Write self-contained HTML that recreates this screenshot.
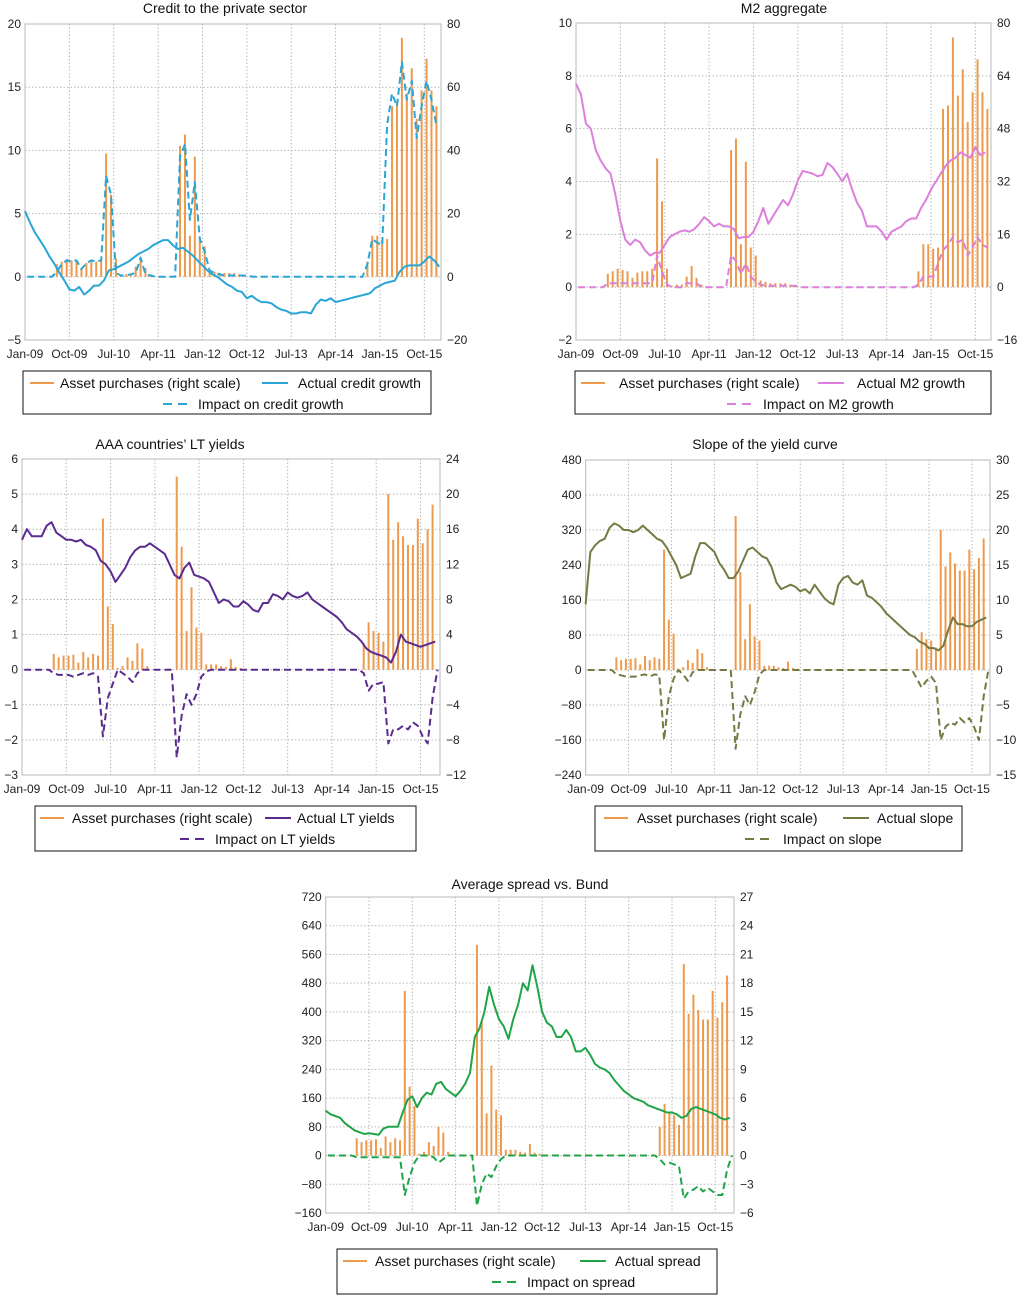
<!DOCTYPE html>
<html><head><meta charset="utf-8"><style>
html,body{margin:0;padding:0;background:#fff;}
svg{display:block;font-family:"Liberation Sans",Arial,sans-serif;}
</style></head><body>
<svg id="chart" width="1024" height="1295" viewBox="0 0 1024 1295" xmlns="http://www.w3.org/2000/svg"></svg>
<script>
// ---- data (month index 0 = Jan-09) ----
const xTickLabels = ["Jan-09","Oct-09","Jul-10","Apr-11","Jan-12","Oct-12","Jul-13","Apr-14","Jan-15","Oct-15"];
const purchasesA = [0,0,0,0,0,0, 4,4.8,5.6,5.2,4.8,2.8,4.4,4.8,4.8,5.6, 39,26,5.6,0.4,0.8,0.8,3.2,6.4,2.8,0.8, 0,0,0,0,0, 41.5,45,13,38,12,9.6,2,1.6,1.2,1.2,1.2,1.2,0.8,0.4, 0,0,0,0,0,0,0,0,0,0,0,0,0,0,0,0,0,0,0,0,0,0,0,0, 4.8,13,13,11.6,12,54,55,75.6,58,66,50,59,69,59,54,0];
const purchasesB = [0,0,0,0,0,0, 1.8,1.4,1.6,1.6,1.7,0.8,2,1.4,1.8,1.6, 17.2,7.2,5.2,0.2,0.4,1.4,1,3,2.4,0.4, 0,0,0,0,0, 22,14,4.4,9.4,4.8,4.2,0.6,0.6,0.6,0.4,0.3,1.2,0.3,0.2, 0,0,0,0,0,0,0,0,0,0,0,0,0,0,0,0,0,0,0,0,0,0,0,0, 3,5.4,4.4,4.2,3.2,20,14.8,16.8,15.2,14.2,14.2,17.2,14.4,16,18.8,0];
const creditActual = [5.2,4.3,3.5,2.9,2.3,1.6,1.0,0.3,-0.3,-1.0, -1.1,-0.8,-1.4,-1.1,-0.7,-0.7,-0.3,0.5,0.6,0.8, 1.0,1.2,1.5,1.8,2.0,2.2,2.5,2.7,2.9,2.9, 2.5,2.2,2.3,2.0,1.7,1.3,0.9,0.5,0.2,0.0, -0.3,-0.6,-0.8,-1.1,-1.2,-1.7,-1.5,-1.8,-2.0,-2.0, -2.1,-2.4,-2.6,-2.7,-2.9,-2.9,-2.8,-2.8,-2.9,-2.2, -1.8,-1.9,-1.7,-2.0,-1.9,-1.8,-1.7,-1.6,-1.5,-1.4, -1.3,-0.9,-0.7,-0.5,-0.4,-0.3,0.4,0.8,0.9,0.9, 0.9,1.2,1.6,1.3,0.8];
const creditImpact = [0,0,0,0,0,0,0.4,1.0,1.3,1.2, 1.3,0.6,1.1,1.3,1.2,1.3,8.0,6.5,0.3,0.1, 0.1,0.2,0.3,1.5,0.2,0.1,0,0,0,0, 0,9.5,10.5,4.5,7.5,3.0,2.0,0.5,0.3,0.2, 0.1,0.1,0.1,0.1,0.1,0.05,0,0,0,0, 0,0,0,0,0,0,0,0,0,0, 0,0,0,0,0,0,0,0,0,1.0, 3.0,2.7,2.5,12,14.5,13.5,17,14,15.5,11, 13.5,15.5,14,12,null];
const m2Actual = [7.7,7.3,6.2,6.0,5.2,4.8,4.5,4.3,3.5,2.5, 1.8,1.6,1.8,1.7,1.4,1.2,1.3,1.3,1.6,1.9, 2.0,2.1,2.15,2.1,2.2,2.4,2.65,2.5,2.3,2.4, 2.3,2.3,2.2,1.85,1.9,1.9,2.1,2.5,3.0,2.4, 2.7,3.0,3.3,3.1,3.5,4.05,4.4,4.35,4.3,4.2, 4.25,4.7,4.55,4.3,4.0,4.3,3.7,3.2,2.9,2.3, 2.3,2.3,2.1,1.8,2.1,2.2,2.3,2.5,2.6,2.6, 3.0,3.3,3.7,4.0,4.3,4.6,4.8,4.9,5.1,5.0, 4.9,5.3,5.0,5.1,null];
const m2Impact = [0,0,0,0,0,0,0.15,0.15,0.15,0.15, 0.15,0.15,0.15,0.15,0.15,0.15,1.2,0.6,0.1,0, 0,0,0.15,0.15,0.15,0,0,0,0,0, 0,1.2,1.0,0.5,0.9,0.4,0.2,0.1,0.05,0.05, 0.05,0.05,0.05,0.05,0.05,0,0,0,0,0, 0,0,0,0,0,0,0,0,0,0, 0,0,0,0,0,0,0,0,0,0.1, 0.4,0.4,0.4,0.9,1.4,1.6,1.9,1.7,1.8,1.2, 1.5,1.9,1.6,1.5,null];
const ltActual = [3.7,4.0,3.8,3.8,3.8,4.1,4.2,3.9,3.8,3.7, 3.7,3.65,3.7,3.55,3.5,3.4,3.1,3.0,2.8,2.5, 2.7,2.9,3.2,3.4,3.5,3.5,3.6,3.5,3.4,3.3, 3.0,2.7,2.6,2.9,3.05,2.7,2.65,2.6,2.5,2.2, 1.9,2.0,1.95,1.8,1.8,1.95,1.85,1.7,1.65,1.9, 1.9,2.15,2.1,2.0,2.2,2.1,2.05,2.1,2.2,2.0, 1.9,1.8,1.7,1.6,1.5,1.35,1.15,1.05,0.95,0.8, 0.6,0.5,0.45,0.4,0.35,0.2,0.5,1.0,0.8,0.75, 0.7,0.65,0.7,0.75,0.8];
const ltImpact = [0,0,0,0,0,0,-0.1,-0.15,-0.15,-0.15, -0.2,-0.15,-0.1,-0.15,-0.1,-0.2,-1.9,-0.8,-0.4,0, -0.1,-0.2,-0.35,-0.1,0,0,0,0,0,0, 0,-2.5,-1.3,-0.7,-1.0,-0.7,-0.2,-0.05,0,0, 0,0,0,0,0,0,0,0,0,0, 0,0,0,0,0,0,0,0,0,0, 0,0,0,0,0,0,0,0,0,-0.1, -0.6,-0.4,-0.4,-0.35,-2.1,-1.7,-1.7,-1.6,-1.7,-1.5, -1.6,-1.9,-2.1,-0.8,0];
const slopeActual = [150,270,285,295,300,325,335,330,320,320, 315,320,330,320,310,300,295,280,260,240, 210,215,220,260,290,290,280,270,245,230, 210,210,225,250,275,280,270,260,255,235, 200,185,190,195,190,180,185,175,195,180, 165,155,150,195,210,215,200,195,205,170, 165,155,145,130,120,110,100,90,80,75, 65,60,50,50,45,55,90,120,105,105, 100,100,110,115,120];
const slopeImpact = [0,0,0,0,0,0,-10,-12,-15,-15, -15,-12,-10,-15,-10,-12,-160,-60,-20,0, -10,-25,-5,0,0,0,0,0,0,0, 0,-180,-100,-60,-80,-50,-10,0,0,0, 0,0,0,0,0,0,0,0,0,0, 0,0,0,0,0,0,0,0,0,0, 0,0,0,0,0,0,0,0,0,-20, -40,-25,-15,-30,-160,-130,-120,-125,-110,-120, -110,-130,-160,-60,0];
const spreadActual = [125,115,110,105,90,80,70,65,60,62, 60,58,75,80,80,80,120,155,165,135, 160,175,170,200,205,185,175,165,180,200, 230,330,355,400,470,420,380,360,325,380, 420,480,460,530,470,400,370,360,330,330, 350,330,290,290,300,280,255,245,240,230, 210,195,180,170,160,155,150,140,135,130, 125,120,120,115,105,110,130,135,130,125, 120,115,105,100,105];
const spreadImpact = [0,0,0,0,0,0,-5,-5,-5,-5, -5,-5,-5,-5,-5,-5,-110,-60,-20,0, 0,0,-5,-20,-10,0,0,0,0,0, 0,-140,-80,-50,-60,-30,-10,0,0,0, 0,0,0,0,0,0,0,0,0,0, 0,0,0,0,0,0,0,0,0,0, 0,0,0,0,0,0,0,0,0,-10, -25,-20,-25,-30,-120,-100,-95,-85,-100,-90, -100,-110,-110,-40,0];

const NS = "http://www.w3.org/2000/svg";
const svg = document.getElementById('chart');
const ORANGE = "#ee9a4d";
function mk(tag, attrs, parent){const e=document.createElementNS(NS,tag);for(const k in attrs)e.setAttribute(k,attrs[k]);(parent||svg).appendChild(e);return e;}

const panels = [
 {id:"credit", title:"Credit to the private sector", tx:225, ty:13, x0:25, x1:441, ppm:4.93, yT:24, yB:340, lmin:-5,lmax:20,lstep:5, rmin:-20,rmax:80,rstep:20, bars:purchasesA, act:creditActual, imp:creditImpact, color:"#29a6d6",
  leg:{x:23,y:371,w:408,h:43, s1:30, t1:60, s2:262, t2:298, s3:163, t3:198, a:"Actual credit growth", i:"Impact on credit growth"}},
 {id:"m2", title:"M2 aggregate", tx:784, ty:13, x0:576, x1:991, ppm:4.93, yT:23, yB:340, lmin:-2,lmax:10,lstep:2, rmin:-16,rmax:80,rstep:16, bars:purchasesA, act:m2Actual, imp:m2Impact, color:"#dd7fdc",
  leg:{x:575,y:371,w:416,h:43, s1:581, t1:619, s2:818, t2:857, s3:727, t3:763, a:"Actual M2 growth", i:"Impact on M2 growth"}},
 {id:"lt-yields", title:"AAA countries\u2019 LT yields", tx:170, ty:449, x0:22, x1:440, ppm:4.92, yT:459, yB:775, lmin:-3,lmax:6,lstep:1, rmin:-12,rmax:24,rstep:4, bars:purchasesB, act:ltActual, imp:ltImpact, color:"#5a2b8e",
  leg:{x:35,y:806,w:381,h:45, s1:40, t1:72, s2:265, t2:297, s3:180, t3:215, a:"Actual LT yields", i:"Impact on LT yields"}},
 {id:"slope", title:"Slope of the yield curve", tx:765, ty:449, x0:585.6, x1:990, ppm:4.77, yT:460, yB:775, lmin:-240,lmax:480,lstep:80, rmin:-15,rmax:30,rstep:5, bars:purchasesB, act:slopeActual, imp:slopeImpact, color:"#767a42",
  leg:{x:595,y:806,w:367,h:45, s1:604, t1:637, s2:843, t2:877, s3:745, t3:783, a:"Actual slope", i:"Impact on slope"}},
 {id:"spread", title:"Average spread vs. Bund", tx:530, ty:889, x0:325.7, x1:734, ppm:4.81, yT:897, yB:1213, lmin:-160,lmax:720,lstep:80, rmin:-6,rmax:27,rstep:3, bars:purchasesB, act:spreadActual, imp:spreadImpact, color:"#1fa548",
  leg:{x:337,y:1249,w:380,h:45, s1:343, t1:375, s2:580, t2:615, s3:492, t3:527, a:"Actual spread", i:"Impact on spread"}}
];

panels.forEach(p=>{
  const g = mk('g',{});
  
  
  const X = m => p.x0 + p.ppm*m;
  const YL = v => p.yB - (v-p.lmin)/(p.lmax-p.lmin)*(p.yB-p.yT);
  const YR = v => p.yB - (v-p.rmin)/(p.rmax-p.rmin)*(p.yB-p.yT);
  const t = mk('text',{x:p.tx,y:p.ty,'text-anchor':'middle','font-size':14,fill:'#111'},g);
  t.textContent = p.title;
  
  
  for(let v=p.lmin+p.lstep; v<p.lmax; v+=p.lstep){
    mk('line',{x1:p.x0,x2:p.x1,y1:YL(v),y2:YL(v),stroke:'#b8b8b8','stroke-width':1,'stroke-dasharray':'1.5,2'},g);
  }
  xTickLabels.forEach((lab,i)=>{
    const x = X(i*9);
    if(i>0) mk('line',{x1:x,x2:x,y1:p.yT,y2:p.yB,stroke:'#b8b8b8','stroke-width':1,'stroke-dasharray':'1.5,2'},g);
    const tl = mk('text',{x:x,y:p.yB+18,'text-anchor':'middle','font-size':12,fill:'#222'},g);
    tl.textContent = lab;
    
    
  });
  mk('rect',{x:p.x0,y:p.yT,width:p.x1-p.x0,height:p.yB-p.yT,fill:'none',stroke:'#c4c4c4','stroke-width':1.2},g);
  for(let v=p.lmin; v<=p.lmax+1e-9; v+=p.lstep){
    const tl = mk('text',{x:p.x0-4,y:YL(v)+4,'text-anchor':'end','font-size':12,fill:'#222'},g);
    tl.textContent = v<0 ? '\u2212'+Math.abs(v) : String(v);
    
    
  }
  for(let v=p.rmin; v<=p.rmax+1e-9; v+=p.rstep){
    const tl = mk('text',{x:p.x1+6,y:YR(v)+4,'text-anchor':'start','font-size':12,fill:'#222'},g);
    tl.textContent = v<0 ? '\u2212'+Math.abs(v) : String(v);
    
    
  }
  p.bars.forEach((v,m)=>{
    if(!v) return;
    const y0 = YR(0), y1 = YR(v);
    const b = mk('rect',{x:X(m+0.45)-1,y:Math.min(y0,y1),width:2,height:Math.abs(y0-y1),fill:ORANGE},g);
    
    
  });
  function poly(arr, dashed, name, off){
    let d='';
    arr.forEach((v,m)=>{ if(v===null||v===undefined) return; d += (d?'L':'M')+X(Math.min(m+off,84.6)).toFixed(1)+','+YL(v).toFixed(1); });
    const pa = mk('path',{d:d,fill:'none',stroke:p.color,'stroke-width':2,'stroke-linejoin':'round'},g);
    if(dashed) pa.setAttribute('stroke-dasharray','7,4');
    
    
  }
  poly(p.imp, true, p.id+'-impact-line', 0.45);
  poly(p.act, false, p.id+'-actual-line', 0);
  const L = p.leg;
  const lg = mk('g',{},g);
  
  
  mk('rect',{x:L.x,y:L.y,width:L.w,height:L.h,fill:'#fff',stroke:'#111','stroke-width':1},lg);
  const r1 = L.y+12, r2 = L.y+33;
  mk('line',{x1:L.s1,x2:L.s1+24,y1:r1,y2:r1,stroke:ORANGE,'stroke-width':2},lg);
  const a1 = mk('text',{x:L.t1,y:r1+5,'font-size':14,fill:'#111'},lg); a1.textContent='Asset purchases (right scale)';
  
  
  mk('line',{x1:L.s2,x2:L.s2+26,y1:r1,y2:r1,stroke:p.color,'stroke-width':2},lg);
  const a2 = mk('text',{x:L.t2,y:r1+5,'font-size':14,fill:'#111'},lg); a2.textContent=L.a;
  
  
  mk('line',{x1:L.s3,x2:L.s3+27,y1:r2,y2:r2,stroke:p.color,'stroke-width':2,'stroke-dasharray':'9,6'},lg);
  const a3 = mk('text',{x:L.t3,y:r2+5,'font-size':14,fill:'#111'},lg); a3.textContent=L.i;
  
  
});
</script>
</body></html>
